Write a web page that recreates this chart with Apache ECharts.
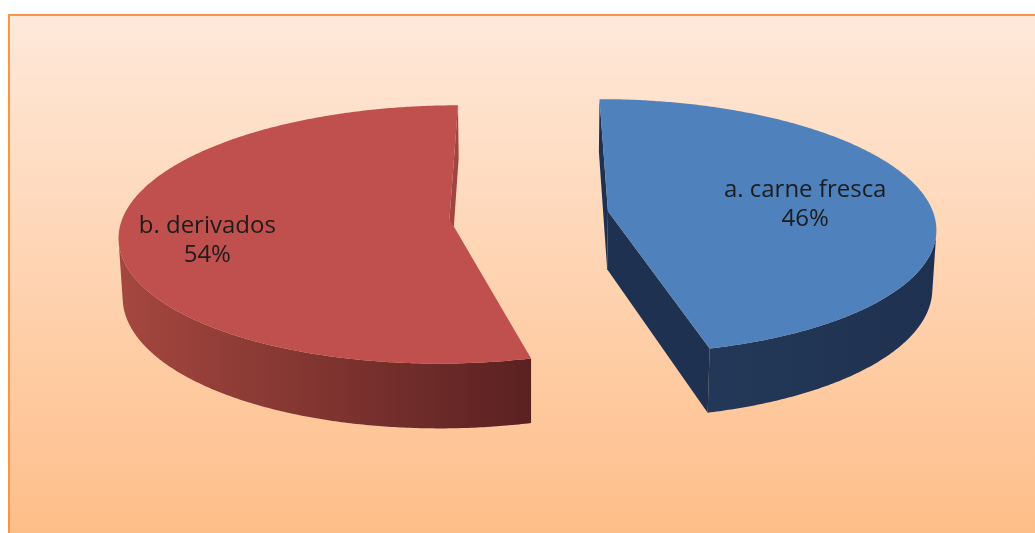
<!DOCTYPE html>
<html>
<head>
<meta charset="utf-8">
<title>Carne fresca y derivados</title>
<script src="https://cdn.jsdelivr.net/npm/echarts@6/dist/echarts.min.js"></script>
<style>
  html, body { margin: 0; padding: 0; background: #ffffff; overflow: hidden; }
  #chart { width: 1035px; height: 533px; }
</style>
</head>
<body>
<div id="chart"></div>
<script>
// Data
const categories = ['a. carne fresca', 'b. derivados'];
const values = [46, 54];

// Appearance of each slice (top face, cut faces, rim shading, label placement)
const sliceStyles = [
  { top: '#4F81BD', radial: '#1F3150', wallStart: '#1F3150', wallEnd: '#233858',
    labelRadius: 0.62, labelShift: [0, 3] },
  { top: '#C0504D', radial: '#A24441', wallStart: '#5A2121', wallEnd: '#A5473F',
    labelRadius: 0.735, labelShift: [0, 10] }
];

// Perspective view of a tilted disc (radius 1 in model units)
const DEG = Math.PI / 180;
const view = {
  cx: 529, cy: 215,      // screen position of the disc centre
  scale: 326,            // pixels per unit radius at the centre depth
  tilt: 22.8 * DEG,      // camera elevation
  dist: 7.68,            // camera distance in radius units
  explode: 0.245,        // slice offset from the centre
  depth: 0.196           // pie thickness
};
const sinT = Math.sin(view.tilt), cosT = Math.cos(view.tilt);
const camera = [0, view.dist * sinT, -view.dist * cosT];
const total = values.reduce((s, v) => s + v, 0);

function project(x, y, z) {
  const d = view.dist + z * cosT - y * sinT;
  const k = view.dist / d;
  return [view.cx + view.scale * x * k, view.cy - view.scale * (y * cosT + z * sinT) * k];
}

function facesCamera(n, p) {
  return n[0] * (camera[0] - p[0]) + n[1] * (camera[1] - p[1]) + n[2] * (camera[2] - p[2]) > 0;
}

function renderSlice(params, api) {
  const i = params.dataIndex;
  const st = sliceStyles[i];
  let before = 0;
  for (let j = 0; j < i; j++) before += values[j];
  // angles run clockwise from the back of the disc
  const a = before / total * 2 * Math.PI;
  const b = (before + api.value(0)) / total * 2 * Math.PI;
  const mid = (a + b) / 2;
  const ox = view.explode * Math.sin(mid), oz = view.explode * Math.cos(mid);
  const h = view.depth;
  const rim = (t, y) => project(ox + Math.sin(t), y, oz + Math.cos(t));
  const centre = y => project(ox, y, oz);
  const children = [];

  // cut faces along the two radii
  [[a, a - Math.PI / 2], [b, b + Math.PI / 2]].forEach(([t, nt]) => {
    const n = [Math.sin(nt), 0, Math.cos(nt)];
    const p = [ox + 0.5 * Math.sin(t), -h / 2, oz + 0.5 * Math.cos(t)];
    if (facesCamera(n, p)) {
      children.push({
        type: 'polygon',
        shape: { points: [centre(0), rim(t, 0), rim(t, -h), centre(-h)] },
        style: { fill: st.radial }
      });
    }
  });

  // curved outer wall, only the part turned towards the camera
  const steps = Math.max(12, Math.ceil((b - a) / (0.5 * DEG)));
  let run = [];
  const flush = () => {
    if (run.length > 1) {
      const top = run.map(t => rim(t, 0));
      const bottom = run.map(t => rim(t, -h)).reverse();
      const x0 = top[0][0], x1 = top[top.length - 1][0];
      children.push({
        type: 'polygon',
        shape: { points: top.concat(bottom) },
        style: {
          fill: new echarts.graphic.LinearGradient(x0, 0, x1, 0, [
            { offset: 0, color: st.wallStart },
            { offset: 1, color: st.wallEnd }
          ], true)
        }
      });
    }
    run = [];
  };
  for (let s = 0; s <= steps; s++) {
    const t = a + (b - a) * s / steps;
    const n = [Math.sin(t), 0, Math.cos(t)];
    const p = [ox + n[0], -h / 2, oz + n[2]];
    if (facesCamera(n, p)) run.push(t); else flush();
  }
  flush();

  // top face
  const topPts = [centre(0)];
  for (let s = 0; s <= steps; s++) topPts.push(rim(a + (b - a) * s / steps, 0));
  children.push({ type: 'polygon', shape: { points: topPts }, style: { fill: st.top } });

  // label: category and share
  const lp = project(ox + st.labelRadius * Math.sin(mid), 0, oz + st.labelRadius * Math.cos(mid));
  children.push({
    type: 'text',
    x: lp[0] + st.labelShift[0],
    y: lp[1] + st.labelShift[1],
    style: {
      text: categories[i] + '\n' + Math.round(api.value(0) / total * 100) + '%',
      fill: '#1c1c1c',
      font: '24px "Open Sans"',
      align: 'center',
      verticalAlign: 'middle',
      lineHeight: 29
    }
  });

  return { type: 'group', children: children };
}

const chart = echarts.init(document.getElementById('chart'), null, { renderer: 'canvas' });
chart.setOption({
  animation: false,
  backgroundColor: '#ffffff',
  graphic: [{
    type: 'rect',
    silent: true,
    z: 0,
    shape: { x: 9, y: 15, width: 1200, height: 700 },
    style: {
      fill: new echarts.graphic.LinearGradient(0, 15, 0, 545, [
        { offset: 0, color: '#FEE9DA' },
        { offset: 1, color: '#FEBD87' }
      ], true),
      stroke: '#F79646',
      lineWidth: 2
    }
  }],
  series: [{
    type: 'custom',
    coordinateSystem: 'none',
    z: 5,
    renderItem: renderSlice,
    data: values.map((v, i) => ({ name: categories[i], value: v }))
  }]
});
</script>
</body>
</html>
